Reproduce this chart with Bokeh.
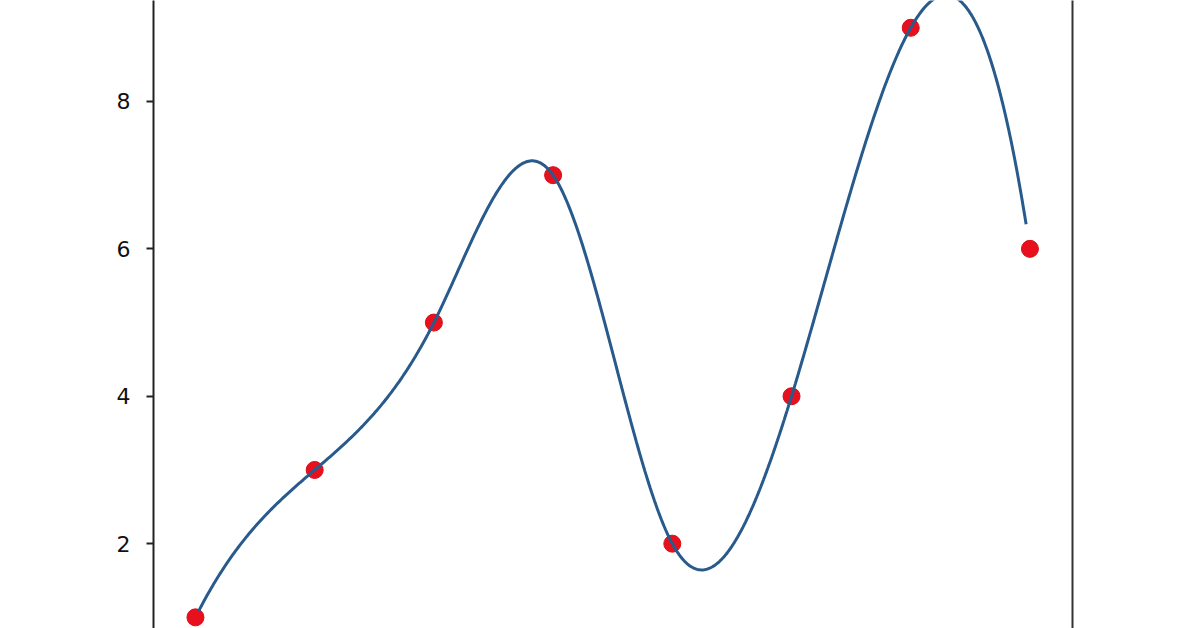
import numpy as np
from bokeh.plotting import figure
from bokeh.models import Range1d, LinearAxis, FixedTicker
from bokeh.embed import file_html
from bokeh.resources import INLINE

# data points
x_pts = [1, 2, 3, 4, 5, 6, 7, 8]
y_pts = [1, 3, 5, 7, 2, 4, 9, 6]
y_ticks = [2, 4, 6, 8]
# visible extent of the smooth curve
curve_start = 1.025
curve_end = 7.968


def cubic_spline_not_a_knot(xs, ys, xe):
    xs = np.asarray(xs, float)
    ys = np.asarray(ys, float)
    n = len(xs)
    h = np.diff(xs)
    A = np.zeros((n, n))
    b = np.zeros(n)
    for i in range(1, n - 1):
        A[i, i - 1] = h[i - 1]
        A[i, i] = 2 * (h[i - 1] + h[i])
        A[i, i + 1] = h[i]
        b[i] = 6 * ((ys[i + 1] - ys[i]) / h[i] - (ys[i] - ys[i - 1]) / h[i - 1])
    # not-a-knot end conditions
    A[0, 0] = h[1]
    A[0, 1] = -(h[0] + h[1])
    A[0, 2] = h[0]
    A[n - 1, n - 3] = h[n - 2]
    A[n - 1, n - 2] = -(h[n - 3] + h[n - 2])
    A[n - 1, n - 1] = h[n - 3]
    M = np.linalg.solve(A, b)
    idx = np.clip(np.searchsorted(xs, xe) - 1, 0, n - 2)
    x0 = xs[idx]
    x1 = xs[idx + 1]
    hh = x1 - x0
    t0 = x1 - xe
    t1 = xe - x0
    return (M[idx] * t0 ** 3 / (6 * hh) + M[idx + 1] * t1 ** 3 / (6 * hh)
            + (ys[idx] / hh - M[idx] * hh / 6) * t0
            + (ys[idx + 1] / hh - M[idx + 1] * hh / 6) * t1)


xs_curve = np.linspace(curve_start, curve_end, 600)
ys_curve = cubic_spline_not_a_knot(x_pts, y_pts, xs_curve)

p = figure(width=1196, height=628, output_backend="svg", toolbar_location=None,
           x_range=Range1d(0.648, 8.357), y_range=Range1d(0.849, 9.370),
           x_axis_location=None, min_border_left=153, min_border_right=124,
           min_border_top=0, min_border_bottom=0)
p.grid.visible = False
p.outline_line_color = None
p.background_fill_color = "white"
p.border_fill_color = "white"

ax = p.yaxis[0]
ax.ticker = FixedTicker(ticks=y_ticks)
ax.minor_tick_line_color = None
ax.major_tick_out = 7
ax.major_tick_in = 0
ax.major_tick_line_width = 2
ax.major_tick_line_color = "#222222"
ax.axis_line_width = 2
ax.axis_line_color = "#222222"
ax.major_label_text_font = "DejaVu Sans"
ax.major_label_text_font_size = "22px"
ax.major_label_text_color = "#111111"
ax.major_label_standoff = 16

right = LinearAxis(ticker=FixedTicker(ticks=[]), axis_line_width=2,
                   axis_line_color="#333333", major_label_text_font_size="0px",
                   minor_tick_line_color=None, major_tick_line_color=None)
p.add_layout(right, "right")

p.scatter(x_pts, y_pts, size=17, fill_color="#e8101c", line_color="#d40f1a")
p.line(xs_curve, ys_curve, line_color="#285a8c", line_width=3)

open("out.html", "w").write(file_html(p, INLINE))
